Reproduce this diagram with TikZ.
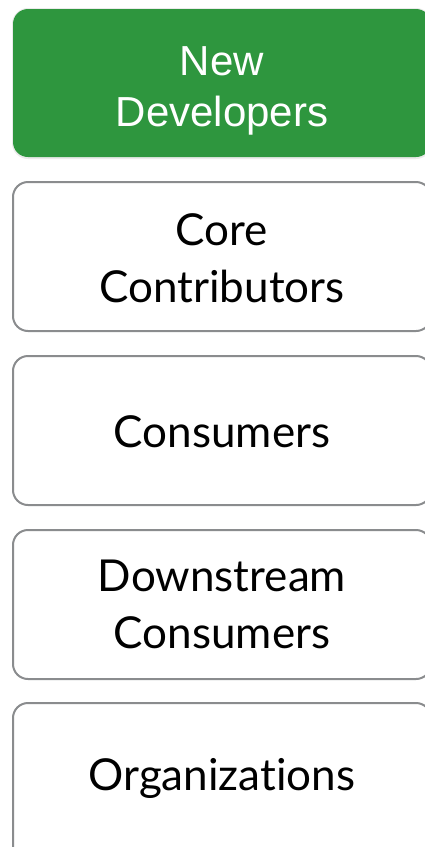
\documentclass[tikz,border=0pt]{standalone}
\usepackage{fontspec}
\setmainfont{Lato}[Ligatures=NoCommon]
\newfontfamily\helv{Liberation Sans}
\definecolor{boxgreen}{RGB}{46,150,62}
\definecolor{boxgray}{RGB}{138,140,142}
\begin{document}
\begin{tikzpicture}[x=1pt,y=-1pt,
  rolebox/.style={draw=boxgray, line width=2pt, rounded corners=15pt, fill=white},
  greenbox/.style={fill=boxgreen, rounded corners=15pt},
  rolelabel/.style={align=center, font=\fontsize{44}{57}\selectfont, text=black},
  greenlabel/.style={align=center, font=\helv\fontsize{42}{51}\selectfont, text=white}]
\useasboundingbox (0,0) rectangle (425,847);
\fill[black!8, rounded corners=16pt] (12,8) rectangle (432,159);
\fill[greenbox] (13,9) rectangle (431,157);
\node[greenlabel] (newdev) at (222,91) {New\\Developers};
\draw[rolebox] (13,182) rectangle (431,331);
\node[rolelabel] (core) at (222,258) {Core\\Contributors};
\draw[rolebox] (13,356) rectangle (431,505);
\node[rolelabel] (cons) at (222,432) {Consumers};
\draw[rolebox] (13,530) rectangle (431,679);
\node[rolelabel] (down) at (222,604) {Downstream\\Consumers};
\draw[rolebox] (13,703) rectangle (431,870);
\node[rolelabel] (org) at (222,778) {Organizations};
\end{tikzpicture}
\end{document}
